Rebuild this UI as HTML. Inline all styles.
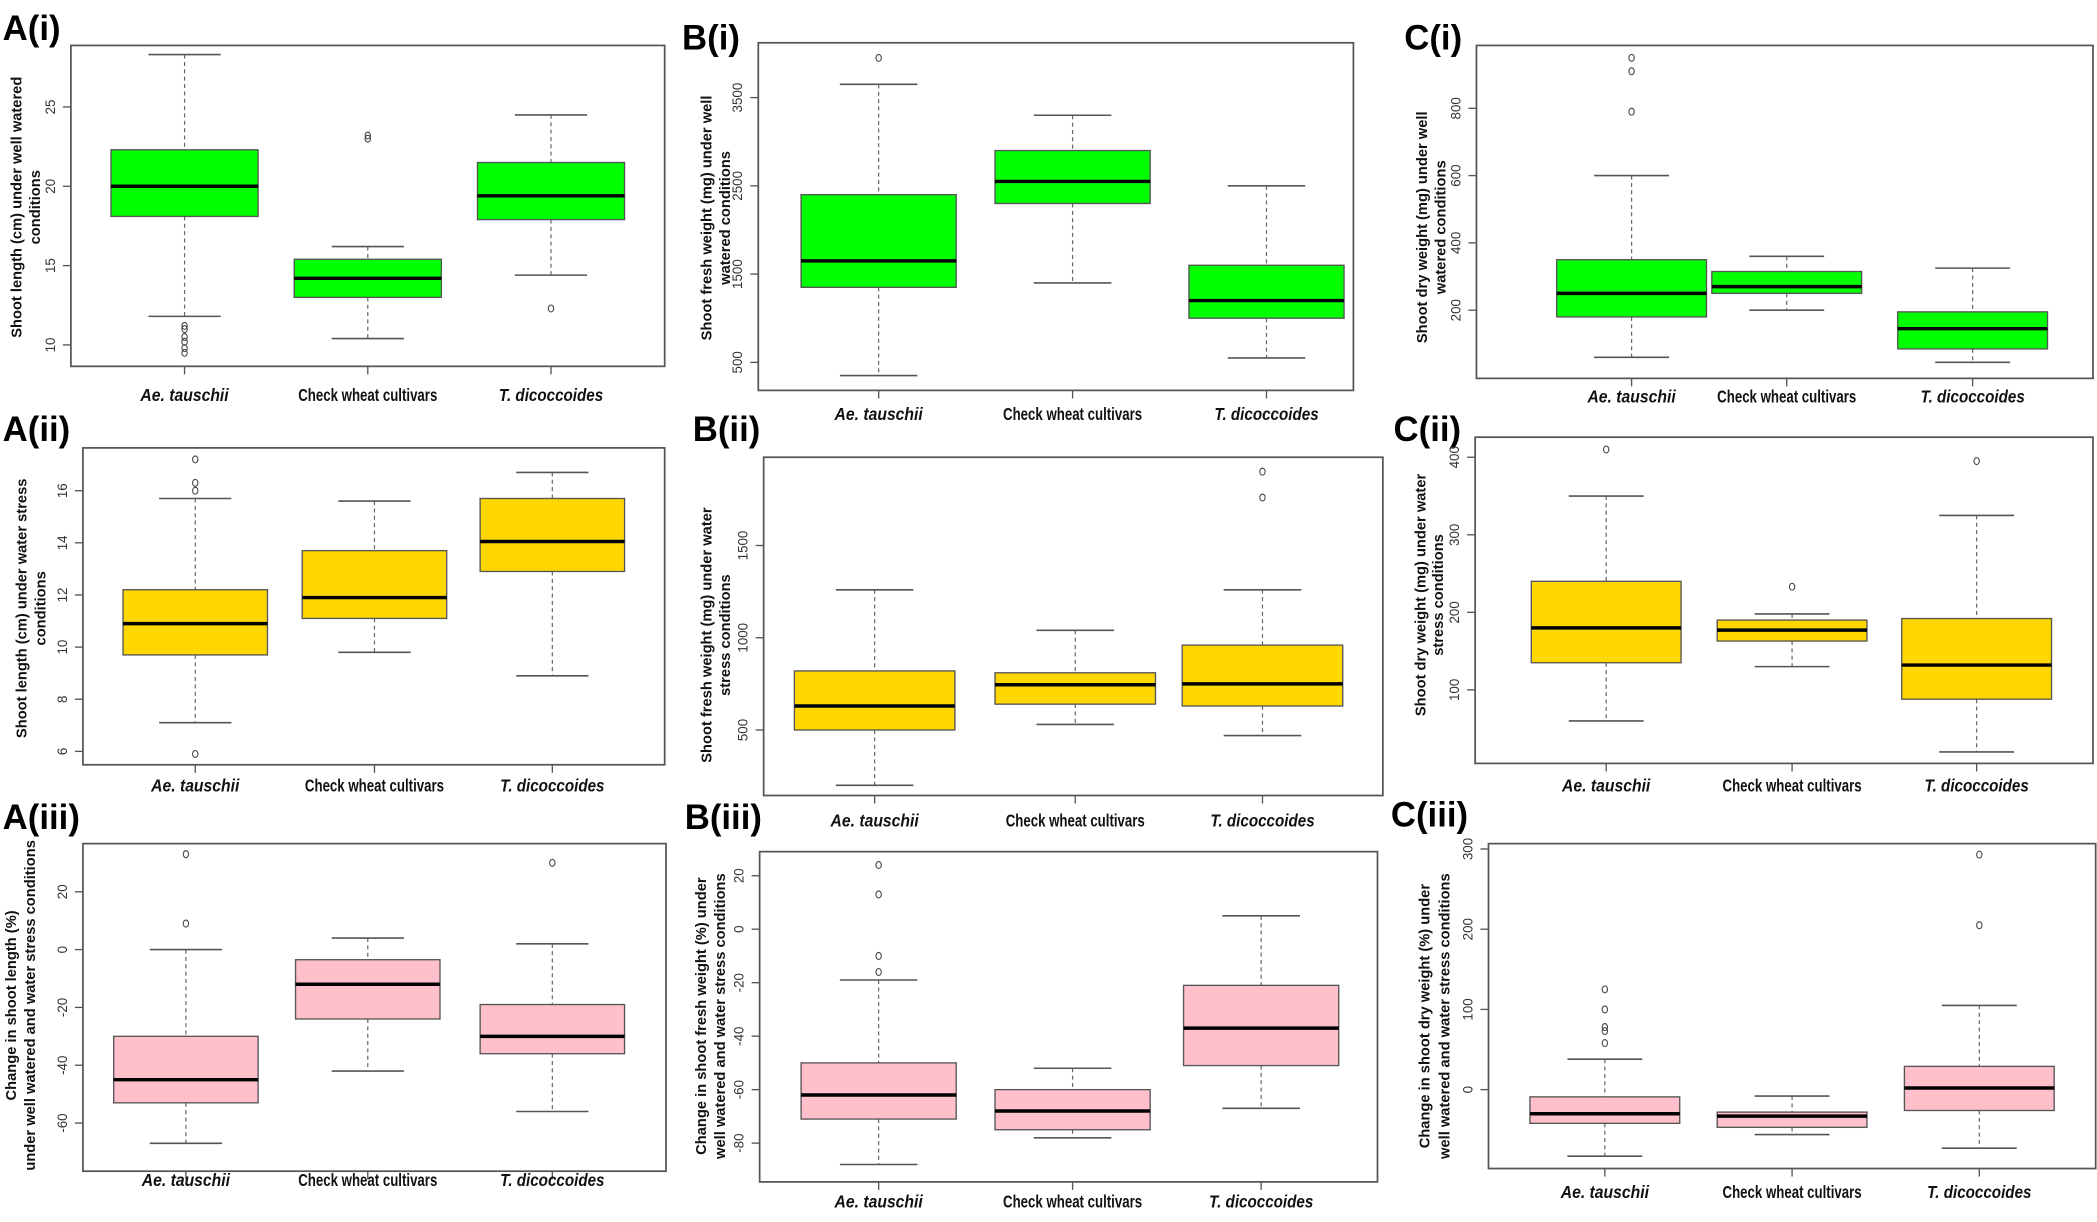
<!DOCTYPE html>
<html><head><meta charset="utf-8"><style>
html,body{margin:0;padding:0;background:#fff;}
svg{display:block;}
text{font-family:"Liberation Sans",Arial,sans-serif;}
</style></head><body>
<svg id="fig" width="2097" height="1222" viewBox="0 0 1568 914" preserveAspectRatio="none" xmlns="http://www.w3.org/2000/svg"></svg>
<script>
const categories = ["Ae. tauschii","Check wheat cultivars","T. dicoccoides"];
const italicCat = [true,false,true];

// A(i)
const A1_lo=[11.8,10.4,14.4], A1_q1=[18.1,13.0,17.9], A1_md=[20.0,14.2,19.4], A1_q3=[22.3,15.4,21.5], A1_hi=[28.3,16.2,24.5];
const A1_out=[[11.2,11.0,10.5,10.2,9.8,9.5],[23.0,23.2],[12.3]];
const A1_ticks=[10,15,20,25];
// A(ii)
const A2_lo=[7.1,9.8,8.9], A2_q1=[9.7,11.1,12.9], A2_md=[10.9,11.9,14.05], A2_q3=[12.2,13.7,15.7], A2_hi=[15.7,15.6,16.7];
const A2_out=[[16.0,16.3,17.2,5.9],[],[]];
const A2_ticks=[6,8,10,12,14,16];
// A(iii)
const A3_lo=[-67,-42,-56], A3_q1=[-53,-24,-36], A3_md=[-45,-12,-30], A3_q3=[-30,-3.5,-19], A3_hi=[0,4,2];
const A3_out=[[9,33],[],[30]];
const A3_ticks=[-60,-40,-20,0,20];
// B(i)
const B1_lo=[350,1400,550], B1_q1=[1350,2300,1000], B1_md=[1650,2550,1200], B1_q3=[2400,2900,1600], B1_hi=[3650,3300,2500];
const B1_out=[[3950],[],[]];
const B1_ticks=[500,1500,2500,3500];
// B(ii)
const B2_lo=[200,530,470], B2_q1=[500,640,630], B2_md=[630,745,750], B2_q3=[820,810,960], B2_hi=[1260,1040,1260];
const B2_out=[[],[],[1760,1900]];
const B2_ticks=[500,1000,1500];
// B(iii)
const B3_lo=[-88,-78,-67], B3_q1=[-71,-75,-51], B3_md=[-62,-68,-37], B3_q3=[-50,-60,-21], B3_hi=[-19,-52,5];
const B3_out=[[-16,-10,13,24],[],[]];
const B3_ticks=[-80,-60,-40,-20,0,20];
// C(i)
const C1_lo=[60,200,45], C1_q1=[180,250,85], C1_md=[250,270,145], C1_q3=[350,315,195], C1_hi=[600,360,325];
const C1_out=[[790,910,950],[],[]];
const C1_ticks=[200,400,600,800];
// C(ii)
const C2_lo=[60,130,20], C2_q1=[135,163,88], C2_md=[180,177,132], C2_q3=[240,190,192], C2_hi=[350,198,325];
const C2_out=[[410],[233],[395]];
const C2_ticks=[100,200,300,400];
// C(iii)
const C3_lo=[-83,-56,-73], C3_q1=[-42,-47,-26], C3_md=[-30,-33,2], C3_q3=[-9,-28,29], C3_hi=[38,-8,105];
const C3_out=[[58,73,78,100,125],[],[205,293]];
const C3_ticks=[0,100,200,300];

const panels=[
 {id:"a-i",label:"A(i)",lx:2,ly:30,box:[53,34,497,274],cx:[138,275,412],bw:110,cw:54,dom:[10,25],rng:[258,80],fill:"#00ff00",lo:A1_lo,q1:A1_q1,md:A1_md,q3:A1_q3,hi:A1_hi,out:A1_out,ticks:A1_ticks,ty:[12,26],tcy:155,title:["Shoot length (cm)  under well watered","conditions"],cy:300},
 {id:"a-ii",label:"A(ii)",lx:2,ly:330,box:[62,335,497,572],cx:[146,280,413],bw:108,cw:54,dom:[6,16],rng:[562,367],fill:"#ffd700",lo:A2_lo,q1:A2_q1,md:A2_md,q3:A2_q3,hi:A2_hi,out:A2_out,ticks:A2_ticks,ty:[16,30],tcy:455,title:["Shoot length (cm)  under  water stress","conditions"],cy:592},
 {id:"a-iii",label:"A(iii)",lx:2,ly:620,box:[62,631,498,876],cx:[139,275,413],bw:108,cw:54,dom:[-60,20],rng:[840,667],fill:"#ffc0cb",lo:A3_lo,q1:A3_q1,md:A3_md,q3:A3_q3,hi:A3_hi,out:A3_out,ticks:A3_ticks,ty:[8,22],tcy:752,title:["Change in shoot length (%)","under well watered and water stress conditions"],cy:887},
 {id:"b-i",label:"B(i)",lx:510,ly:37,box:[567,32,1012,292],cx:[657,802,947],bw:116,cw:58,dom:[500,3500],rng:[271,73],fill:"#00ff00",lo:B1_lo,q1:B1_q1,md:B1_md,q3:B1_q3,hi:B1_hi,out:B1_out,ticks:B1_ticks,ty:[528,542],tcy:163,title:["Shoot fresh weight (mg)  under well","watered conditions"],cy:314},
 {id:"b-ii",label:"B(ii)",lx:518,ly:330,box:[571,342,1034,595],cx:[654,804,944],bw:120,cw:58,dom:[500,1500],rng:[546,408],fill:"#ffd700",lo:B2_lo,q1:B2_q1,md:B2_md,q3:B2_q3,hi:B2_hi,out:B2_out,ticks:B2_ticks,ty:[528,542],tcy:475,title:["Shoot fresh weight (mg) under  water","stress conditions"],cy:618},
 {id:"b-iii",label:"B(iii)",lx:512,ly:620,box:[568,637,1030,884],cx:[657,802,943],bw:116,cw:58,dom:[-80,20],rng:[855,655],fill:"#ffc0cb",lo:B3_lo,q1:B3_q1,md:B3_md,q3:B3_q3,hi:B3_hi,out:B3_out,ticks:B3_ticks,ty:[524,538],tcy:760,title:["Change in shoot fresh weight (%) under","well watered and water stress conditions"],cy:903},
 {id:"c-i",label:"C(i)",lx:1050,ly:37,box:[1104,34,1565,283],cx:[1220,1336,1475],bw:112,cw:56,dom:[200,800],rng:[232,81],fill:"#00ff00",lo:C1_lo,q1:C1_q1,md:C1_md,q3:C1_q3,hi:C1_hi,out:C1_out,ticks:C1_ticks,ty:[1063,1077],tcy:170,title:["Shoot dry weight (mg)  under well","watered conditions"],cy:301},
 {id:"c-ii",label:"C(ii)",lx:1042,ly:330,box:[1103,327,1565,571],cx:[1201,1340,1478],bw:112,cw:56,dom:[100,400],rng:[516,342],fill:"#ffd700",lo:C2_lo,q1:C2_q1,md:C2_md,q3:C2_q3,hi:C2_hi,out:C2_out,ticks:C2_ticks,ty:[1062,1075],tcy:445,title:["Shoot dry weight (mg) under  water","stress conditions"],cy:592},
 {id:"c-iii",label:"C(iii)",lx:1040,ly:618,box:[1113,631,1567,874],cx:[1200,1340,1480],bw:112,cw:56,dom:[0,300],rng:[815,635],fill:"#ffc0cb",lo:C3_lo,q1:C3_q1,md:C3_md,q3:C3_q3,hi:C3_hi,out:C3_out,ticks:C3_ticks,ty:[1065,1080],tcy:760,title:["Change in shoot dry weight (%) under","well watered and water stress conditions"],cy:896}
];

const NS="http://www.w3.org/2000/svg";
const svg=document.getElementById('fig');
function mk(tag,attrs,parent,txt){const e=document.createElementNS(NS,tag);for(const k in attrs)e.setAttribute(k,attrs[k]);if(txt!==undefined)e.textContent=txt;parent.appendChild(e);return e;}

panels.forEach(p=>{
  const g=mk('g',{},svg);
  
  
  const y=v=>p.rng[0]+(v-p.dom[0])*(p.rng[1]-p.rng[0])/(p.dom[1]-p.dom[0]);
  const [x0,y0,x1,y1]=p.box;
  const lab=mk('text',{x:p.lx,y:p.ly,'font-size':26,'font-weight':'bold',fill:'#000'},g,p.label);
  
  
  const fr=mk('rect',{x:x0,y:y0,width:x1-x0,height:y1-y0,fill:'none',stroke:'#555','stroke-width':1.3},g);
  
  
  const yt=mk('g',{},g);
  
  
  p.ticks.forEach(t=>{
    const ty=y(t);
    mk('line',{x1:x0-6,x2:x0,y1:ty,y2:ty,stroke:'#555','stroke-width':1},yt);
    const tl=mk('text',{x:x0-12,y:ty,'font-size':10,fill:'#333','text-anchor':'middle',transform:`rotate(-90 ${x0-12} ${ty})`},yt,String(t));
    
    
  });
  const tt=mk('g',{},g);
  
  
  p.title.forEach((line,i)=>{
    const tx=p.ty[i]+4;
    mk('text',{x:tx,y:p.tcy,'font-size':11,'font-weight':'bold',fill:'#111','text-anchor':'middle',transform:`rotate(-90 ${tx} ${p.tcy})`},tt,line);
  });
  categories.forEach((c,i)=>{
    const cx=p.cx[i];
    const bg=mk('g',{},g);
    
    
    mk('line',{x1:cx,x2:cx,y1:y1,y2:y1+6,stroke:'#555','stroke-width':1},bg);
    mk('line',{x1:cx,x2:cx,y1:y(p.hi[i]),y2:y(p.q3[i]),stroke:'#666','stroke-width':0.9,'stroke-dasharray':'3,2.5'},bg);
    mk('line',{x1:cx,x2:cx,y1:y(p.q1[i]),y2:y(p.lo[i]),stroke:'#666','stroke-width':0.9,'stroke-dasharray':'3,2.5'},bg);
    mk('line',{x1:cx-p.cw/2,x2:cx+p.cw/2,y1:y(p.hi[i]),y2:y(p.hi[i]),stroke:'#555','stroke-width':1.2},bg);
    mk('line',{x1:cx-p.cw/2,x2:cx+p.cw/2,y1:y(p.lo[i]),y2:y(p.lo[i]),stroke:'#555','stroke-width':1.2},bg);
    mk('rect',{x:cx-p.bw/2,y:y(p.q3[i]),width:p.bw,height:y(p.q1[i])-y(p.q3[i]),fill:p.fill,stroke:'#555','stroke-width':1},bg);
    mk('line',{x1:cx-p.bw/2,x2:cx+p.bw/2,y1:y(p.md[i]),y2:y(p.md[i]),stroke:'#000','stroke-width':2.6},bg);
    p.out[i].forEach(o=>{
      const oc=mk('ellipse',{cx:cx,cy:y(o),rx:2,ry:2.6,fill:'none',stroke:'#444','stroke-width':0.8},bg);
      
      
    });
    const cl=mk('text',{x:cx,y:p.cy,'font-size':13,'font-weight':'bold','font-style':italicCat[i]?'italic':'normal',fill:'#111','text-anchor':'middle','textLength':italicCat[i]?(i===0?66:78):104,'lengthAdjust':'spacingAndGlyphs'},g,c);
    
    
  });
});
</script>
</body></html>
